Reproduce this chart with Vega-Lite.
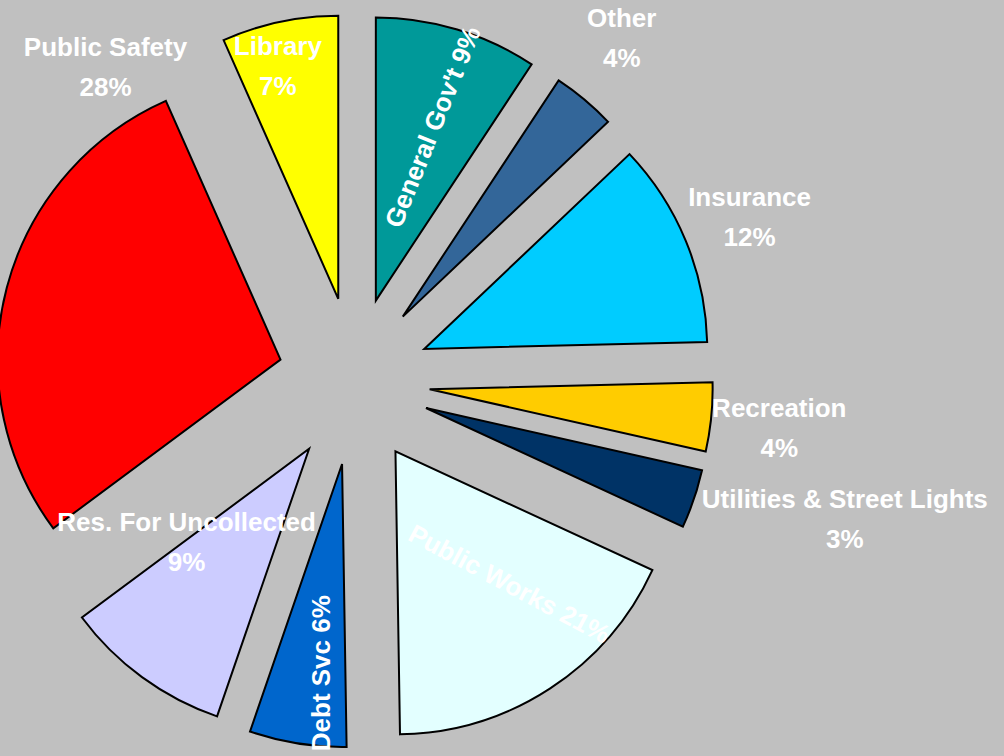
{
  "$schema": "https://vega.github.io/schema/vega-lite/v6.json",
  "width": 708,
  "height": 762,
  "autosize": {"type": "none"},
  "padding": {"left": 0, "top": 0, "right": 296, "bottom": 0},
  "background": "#C0C0C0",
  "config": {
    "view": {"stroke": null},
    "text": {"font": "Liberation Sans", "fontWeight": "bold", "fontSize": 26, "fill": "white", "lineBreak": "\n", "lineHeight": 40, "align": "center", "baseline": "middle"}
  },
  "data": {
    "values": [
      {"idx": 1, "category": "General Gov't", "share": 9.28, "label": "General Gov't 9%"},
      {"idx": 2, "category": "Other", "share": 3.64, "label": "Other\n4%"},
      {"idx": 3, "category": "Insurance", "share": 11.69, "label": "Insurance\n12%"},
      {"idx": 4, "category": "Recreation", "share": 3.92, "label": "Recreation\n4%"},
      {"idx": 5, "category": "Utilities & Street Lights", "share": 3.36, "label": "Utilities & Street Lights\n3%"},
      {"idx": 6, "category": "Public Works", "share": 17.86, "label": "Public Works  21%"},
      {"idx": 7, "category": "Debt Svc", "share": 5.53, "label": "Debt Svc 6%"},
      {"idx": 8, "category": "Res. For Uncollected", "share": 9.56, "label": "Res. For Uncollected\n9%"},
      {"idx": 9, "category": "Public Safety", "share": 28.53, "label": "Public Safety\n28%"},
      {"idx": 10, "category": "Library", "share": 6.64, "label": "Library\n7%"}
    ]
  },
  "encoding": {
    "theta": {"field": "share", "type": "quantitative", "stack": true},
    "order": {"field": "idx", "type": "quantitative"}
  },
  "layer": [
    {
      "mark": {
        "type": "arc",
        "radius": 283,
        "stroke": "black",
        "strokeWidth": 2,
        "xOffset": {"expr": "76*sin(scale('theta', (datum.share_start + datum.share_end)/2))"},
        "yOffset": {"expr": "-84*cos(scale('theta', (datum.share_start + datum.share_end)/2))"}
      },
      "encoding": {
        "color": {
          "field": "category",
          "type": "nominal",
          "legend": null,
          "scale": {
            "domain": ["General Gov't", "Other", "Insurance", "Recreation", "Utilities & Street Lights", "Public Works", "Debt Svc", "Res. For Uncollected", "Public Safety", "Library"],
            "range": ["#009999", "#336699", "#00CCFF", "#FFCC00", "#003366", "#E3FFFF", "#0066CC", "#CCCCFF", "#FF0000", "#FFFF00"]
          }
        }
      }
    },
    {
      "mark": {"type": "text", "radius": 434, "thetaOffset": -0.0325, "dy": -20},
      "encoding": {"text": {"condition": {"test": "datum.category === 'Other'", "field": "label", "type": "nominal"}, "value": ""}}
    },
    {
      "mark": {"type": "text", "radius": 428, "dy": -20},
      "encoding": {"text": {"condition": {"test": "datum.category === 'Insurance'", "field": "label", "type": "nominal"}, "value": ""}}
    },
    {
      "mark": {"type": "text", "radius": 428, "thetaOffset": 0.0138, "dy": -20},
      "encoding": {"text": {"condition": {"test": "datum.category === 'Recreation'", "field": "label", "type": "nominal"}, "value": ""}}
    },
    {
      "mark": {"type": "text", "radius": 510, "thetaOffset": -0.0517, "dy": -20},
      "encoding": {"text": {"condition": {"test": "datum.category === 'Utilities & Street Lights'", "field": "label", "type": "nominal"}, "value": ""}}
    },
    {
      "mark": {"type": "text", "radius": 323, "thetaOffset": -0.0293, "dy": -20},
      "encoding": {"text": {"condition": {"test": "datum.category === 'Library'", "field": "label", "type": "nominal"}, "value": ""}}
    },
    {
      "mark": {"type": "text", "radius": 400, "thetaOffset": 0.643, "dy": -20},
      "encoding": {"text": {"condition": {"test": "datum.category === 'Public Safety'", "field": "label", "type": "nominal"}, "value": ""}}
    },
    {
      "mark": {"type": "text", "radius": 233, "thetaOffset": 0.170, "dy": -20},
      "encoding": {"text": {"condition": {"test": "datum.category === 'Res. For Uncollected'", "field": "label", "type": "nominal"}, "value": ""}}
    },
    {
      "mark": {"type": "text", "radius": 266, "thetaOffset": 0.012, "angle": -68},
      "encoding": {"text": {"condition": {"test": "datum.category === \"General Gov't\"", "field": "label", "type": "nominal"}, "value": ""}}
    },
    {
      "mark": {"type": "text", "radius": 256, "thetaOffset": -0.073, "angle": 28},
      "encoding": {"text": {"condition": {"test": "datum.category === 'Public Works'", "field": "label", "type": "nominal"}, "value": ""}}
    },
    {
      "mark": {"type": "text", "radius": 294, "thetaOffset": -0.047, "angle": -90},
      "encoding": {"text": {"condition": {"test": "datum.category === 'Debt Svc'", "field": "label", "type": "nominal"}, "value": ""}}
    }
  ]
}
